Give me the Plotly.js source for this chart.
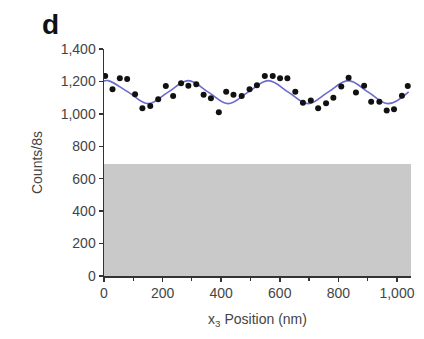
<!DOCTYPE html>
<html>
<head>
<meta charset="utf-8">
<script src="https://cdn.plot.ly/plotly-3.0.1.min.js"></script>
<style>html,body{margin:0;padding:0;background:#fff;}#chart{width:424px;height:339px;}</style>
</head>
<body>
<div id="chart"></div>
<script>
// Measured counts (dots)
const posX = [4, 29, 54, 79, 106, 131, 158, 185, 211, 236, 263, 288, 315, 340, 365, 392, 417, 442, 470, 497, 522,
              549, 576, 601, 626, 653, 679, 706, 731, 758, 783, 810, 835, 860, 888, 912, 940, 965, 990, 1017, 1037];
const counts = [1234, 1152, 1220, 1215, 1121, 1034, 1049, 1090, 1172, 1110, 1189, 1174, 1183, 1118, 1096, 1010, 1137, 1118, 1110, 1152, 1177,
                1234, 1234, 1220, 1220, 1137, 1069, 1082, 1034, 1065, 1100, 1168, 1223, 1131, 1174, 1075, 1075, 1020, 1028, 1112, 1172];
// Fitted curve, read at its peaks, troughs and mid-crossings
const fitX = [0, 15, 83, 151, 219, 288, 356, 424, 492, 561, 629, 697, 765, 834, 902, 970, 1040];
const fitY = [1203, 1205, 1134, 1063, 1134, 1205, 1134, 1063, 1134, 1205, 1134, 1063, 1134, 1205, 1134, 1063, 1136];
// Background level (grey band)
const bgX = [0, 1048];
const bgY = [690, 690];
const xTicks = [0, 200, 400, 600, 800, 1000];
const xTickText = ['0', '200', '400', '600', '800', '1,000'];
const yTicks = [0, 200, 400, 600, 800, 1000, 1200, 1400];
const yTickText = ['0', '200', '400', '600', '800', '1,000', '1,200', '1,400'];

const font = 'Liberation Sans, Arial, sans-serif';
const data = [
  {x: bgX, y: bgY, type: 'scatter', mode: 'lines', fill: 'tozeroy', fillcolor: '#c9c9c9',
   line: {width: 0, color: '#c9c9c9'}, hoverinfo: 'skip'},
  {x: fitX, y: fitY, type: 'scatter', mode: 'lines', line: {shape: 'spline', smoothing: 1.1, color: '#6b6bd0', width: 1.6}},
  {x: posX, y: counts, type: 'scatter', mode: 'markers', marker: {color: '#111', size: 6}}
];
const layout = {
  width: 424, height: 339,
  margin: {l: 104, r: 13, t: 49, b: 63},
  showlegend: false,
  paper_bgcolor: '#fff', plot_bgcolor: '#fff',
  font: {family: font, color: '#444', size: 14},
  xaxis: {
    range: [0, 1048], showgrid: false, zeroline: false,
    showline: true, linecolor: '#333', linewidth: 1.5,
    tickmode: 'array', tickvals: xTicks, ticktext: xTickText,
    ticks: 'outside', ticklen: 4, tickwidth: 1.5, tickcolor: '#333',
    minor: {dtick: 100, tick0: 0, ticks: 'outside', ticklen: 3, tickwidth: 1.2, tickcolor: '#333'},
    tickfont: {size: 14, color: '#444'},
    title: {text: 'x<sub>3</sub> Position (nm)', font: {size: 14, color: '#444'}, standoff: 14}
  },
  yaxis: {
    range: [0, 1400], showgrid: false, zeroline: false,
    showline: true, linecolor: '#333', linewidth: 1.5,
    tickmode: 'array', tickvals: yTicks, ticktext: yTickText,
    ticks: 'outside', ticklen: 4, tickwidth: 1.5, tickcolor: '#333',
    tickfont: {size: 14, color: '#444'},
    title: {text: 'Counts/8s', font: {size: 14, color: '#444'}, standoff: 15}
  },
  annotations: [
    {text: '<b>d</b>', xref: 'paper', yref: 'paper', x: -0.21, y: 1.03, xanchor: 'left', yanchor: 'bottom',
     showarrow: false, font: {size: 28, color: '#111', family: font}}
  ]
};
Plotly.newPlot('chart', data, layout, {displayModeBar: false, staticPlot: true});
</script>
</body>
</html>
